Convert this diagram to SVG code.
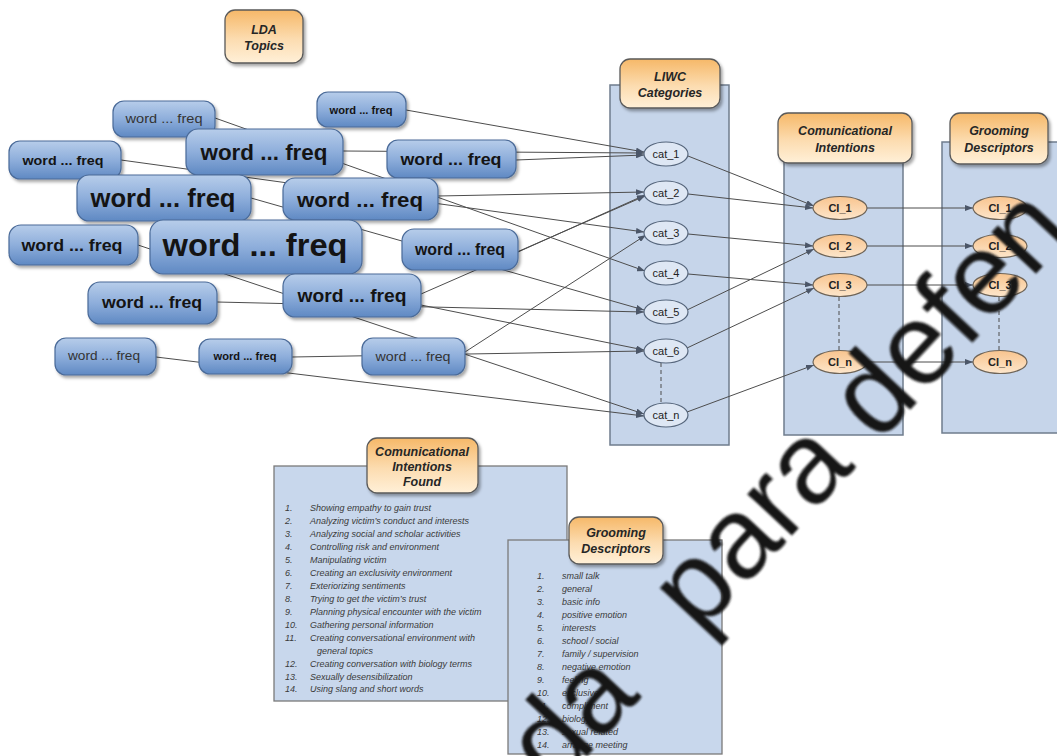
<svg xmlns="http://www.w3.org/2000/svg" width="1057" height="756" viewBox="0 0 1057 756">
  <defs>
    <linearGradient id="blueGrad" x1="0" y1="0" x2="0" y2="1">
      <stop offset="0" stop-color="#b7cdea"/>
      <stop offset="0.5" stop-color="#8eaedb"/>
      <stop offset="1" stop-color="#5f89c3"/>
    </linearGradient>
    <linearGradient id="orangeGrad" x1="0" y1="0" x2="0" y2="1">
      <stop offset="0" stop-color="#f6b868"/>
      <stop offset="0.55" stop-color="#fcdcb0"/>
      <stop offset="1" stop-color="#fff0d8"/>
    </linearGradient>
    <linearGradient id="ciGrad" x1="0" y1="0" x2="0" y2="1">
      <stop offset="0" stop-color="#f8c48e"/>
      <stop offset="1" stop-color="#fde6cb"/>
    </linearGradient>
    <filter id="shadow" x="-10%" y="-10%" width="130%" height="140%">
      <feDropShadow dx="2" dy="2.5" stdDeviation="1.5" flood-color="#000" flood-opacity="0.35"/>
    </filter>
    <filter id="soft" x="-5%" y="-5%" width="110%" height="110%">
      <feGaussianBlur stdDeviation="1.3"/>
    </filter>
    <marker id="arrow" viewBox="0 0 8 6" refX="8" refY="3" markerWidth="8" markerHeight="6" markerUnits="userSpaceOnUse" orient="auto">
      <path d="M0,0 L8,3 L0,6 z" fill="#4b5668"/>
    </marker>
    <style>
      .word rect { fill: url(#blueGrad); stroke: #4a6a98; stroke-width: 1.2; filter: url(#shadow); }
      .word text { font-family: "Liberation Sans", Arial, sans-serif; font-weight: bold; fill: #141414; text-anchor: middle; }
      .word text.lite { font-weight: normal; fill: #333; }
      .hdr rect { fill: url(#orangeGrad); stroke: #5a5a5a; stroke-width: 1.3; filter: url(#shadow); }
      .hdr text { font-family: "Liberation Sans", Arial, sans-serif; font-weight: bold; font-style: italic; font-size: 12.5px; fill: #262626; text-anchor: middle; }
      .col { fill: #c6d5ea; stroke: #6f7c8d; stroke-width: 1.5; }
      .panel { fill: #c8d7ec; stroke: #7a7a7a; stroke-width: 1.3; }
      .cat ellipse { fill: #dee7f4; stroke: #56667c; stroke-width: 1.2; }
      .cat text { font-family: "Liberation Sans", Arial, sans-serif; font-size: 11px; fill: #222; text-anchor: middle; }
      .ci ellipse { fill: url(#ciGrad); stroke: #6e6458; stroke-width: 1.2; }
      .ci text { font-family: "Liberation Sans", Arial, sans-serif; font-size: 11px; font-weight: bold; fill: #222; text-anchor: middle; }
      .edges line { stroke: #4d4d4d; stroke-width: 1; }
      .edges line.arr { marker-end: url(#arrow); }
      .dash { stroke: #4d5666; stroke-width: 1.6; stroke-dasharray: 4 3; }
      .list text { font-family: "Liberation Sans", Arial, sans-serif; font-style: italic; font-size: 9px; fill: #3a3a3a; }
      .mark { font-family: "Liberation Sans", Arial, sans-serif; font-size: 115px; fill: #141414; filter: url(#soft); }
    </style>
  </defs>

  <rect width="1057" height="756" fill="#fff"/>

  <!-- column backgrounds -->
  <g id="columns">
    <rect class="col" x="610" y="85" width="119" height="360"/>
    <rect class="col" x="784" y="145" width="119" height="290"/>
    <rect class="col" x="942" y="142" width="130" height="291"/>
  </g>

  <!-- connectors -->
  <g id="connectors" class="edges">
    <!-- word nodes to LIWC categories -->
    <line class="arr" x1="406" y1="110" x2="644" y2="152"/>
    <line class="arr" x1="343" y1="151" x2="644" y2="153"/>
    <line class="arr" x1="516" y1="160" x2="644" y2="155"/>
    <line class="arr" x1="215" y1="118" x2="645" y2="271"/>
    <line class="arr" x1="121" y1="160" x2="644" y2="232"/>
    <line class="arr" x1="438" y1="196" x2="644" y2="192"/>
    <line class="arr" x1="251" y1="198" x2="644" y2="310"/>
    <line class="arr" x1="518" y1="252" x2="645" y2="195"/>
    <line class="arr" x1="421" y1="294" x2="645" y2="196"/>
    <line class="arr" x1="217" y1="302" x2="644" y2="312"/>
    <line class="arr" x1="421" y1="305" x2="644" y2="350"/>
    <line class="arr" x1="138" y1="245" x2="644" y2="414"/>
    <line class="arr" x1="465" y1="352" x2="646" y2="235"/>
    <line class="arr" x1="292" y1="357" x2="644" y2="351"/>
    <line class="arr" x1="156" y1="357" x2="644" y2="416"/>
    <!-- LIWC categories to communicational intentions -->
    <line class="arr" x1="688" y1="156" x2="814" y2="206"/>
    <line class="arr" x1="688" y1="194" x2="813" y2="208"/>
    <line class="arr" x1="688" y1="234" x2="813" y2="246"/>
    <line class="arr" x1="688" y1="274" x2="813" y2="285"/>
    <line class="arr" x1="687" y1="310" x2="814" y2="249"/>
    <line class="arr" x1="687" y1="348" x2="814" y2="288"/>
    <line class="arr" x1="687" y1="412" x2="814" y2="365"/>
    <!-- communicational intentions to grooming descriptors -->
    <line class="arr" x1="867" y1="208" x2="973" y2="208"/>
    <line class="arr" x1="867" y1="246" x2="973" y2="246"/>
    <line class="arr" x1="867" y1="285" x2="973" y2="285"/>
    <line class="arr" x1="867" y1="362" x2="973" y2="362"/>
    <!-- ellipsis markers between rows -->
    <line class="dash" x1="661" y1="363" x2="661" y2="403"/>
    <line class="dash" x1="839" y1="297" x2="839" y2="350"/>
    <line class="dash" x1="999" y1="297" x2="999" y2="350"/>
  </g>

  <!-- LDA topic word nodes -->
  <g id="w1" class="word"><rect x="113" y="101" width="102" height="36" rx="11"/><text class="lite" x="164" y="123" font-size="12" textLength="77" lengthAdjust="spacingAndGlyphs">word ... freq</text></g>
  <g id="w2" class="word"><rect x="317" y="92" width="89" height="35" rx="11"/><text x="361" y="113.5" font-size="10" textLength="63" lengthAdjust="spacingAndGlyphs">word ... freq</text></g>
  <g id="w4" class="word"><rect x="9" y="141" width="112" height="38" rx="11"/><text x="63" y="165" font-size="13.5" textLength="81" lengthAdjust="spacingAndGlyphs">word ... freq</text></g>
  <g id="w3" class="word"><rect x="186" y="129" width="157" height="46" rx="12"/><text x="264" y="160" font-size="22" textLength="127" lengthAdjust="spacingAndGlyphs">word ... freq</text></g>
  <g id="w5" class="word"><rect x="387" y="140" width="129" height="38" rx="11"/><text x="451" y="165" font-size="16.5" textLength="101" lengthAdjust="spacingAndGlyphs">word ... freq</text></g>
  <g id="w6" class="word"><rect x="77" y="175" width="174" height="46" rx="12"/><text x="163" y="207" font-size="26" textLength="145" lengthAdjust="spacingAndGlyphs">word ... freq</text></g>
  <g id="w7" class="word"><rect x="283" y="178" width="155" height="42" rx="12"/><text x="360" y="207" font-size="21" textLength="126" lengthAdjust="spacingAndGlyphs">word ... freq</text></g>
  <g id="w8" class="word"><rect x="9" y="225" width="129" height="40" rx="12"/><text x="72" y="251" font-size="16" textLength="101" lengthAdjust="spacingAndGlyphs">word ... freq</text></g>
  <g id="w9" class="word"><rect x="150" y="220" width="212" height="54" rx="13"/><text x="255" y="256" font-size="31" textLength="185" lengthAdjust="spacingAndGlyphs">word ... freq</text></g>
  <g id="w10" class="word"><rect x="402" y="229" width="116" height="41" rx="12"/><text x="460" y="255" font-size="16" textLength="90" lengthAdjust="spacingAndGlyphs">word ... freq</text></g>
  <g id="w11" class="word"><rect x="88" y="282" width="129" height="42" rx="12"/><text x="152" y="308" font-size="17" textLength="100" lengthAdjust="spacingAndGlyphs">word ... freq</text></g>
  <g id="w12" class="word"><rect x="283" y="274" width="138" height="43" rx="12"/><text x="352" y="302" font-size="18.5" textLength="109" lengthAdjust="spacingAndGlyphs">word ... freq</text></g>
  <g id="w13" class="word"><rect x="55" y="338" width="101" height="37" rx="11"/><text class="lite" x="104" y="360" font-size="12" textLength="72" lengthAdjust="spacingAndGlyphs">word ... freq</text></g>
  <g id="w14" class="word"><rect x="199" y="339" width="93" height="35" rx="11"/><text x="245" y="360" font-size="10" textLength="63" lengthAdjust="spacingAndGlyphs">word ... freq</text></g>
  <g id="w15" class="word"><rect x="362" y="338" width="103" height="37" rx="11"/><text class="lite" x="413" y="361" font-size="13" textLength="75" lengthAdjust="spacingAndGlyphs">word ... freq</text></g>

  <!-- column headers -->
  <g id="h-lda" class="hdr"><rect x="225" y="10" width="78" height="53" rx="10"/><text x="264" y="34">LDA</text><text x="264" y="50">Topics</text></g>
  <g id="h-liwc" class="hdr"><rect x="620" y="59" width="100" height="49" rx="10"/><text x="670" y="81">LIWC</text><text x="670" y="97">Categories</text></g>
  <g id="h-ci" class="hdr"><rect x="778" y="113" width="134" height="50" rx="10"/><text x="845" y="135">Comunicational</text><text x="845" y="152">Intentions</text></g>
  <g id="h-gd" class="hdr"><rect x="950" y="113" width="98" height="51" rx="10"/><text x="999" y="135">Grooming</text><text x="999" y="152">Descriptors</text></g>

  <!-- LIWC category nodes -->
  <g id="cat1" class="cat"><ellipse cx="666" cy="154" rx="22" ry="12"/><text x="666" y="158">cat_1</text></g>
  <g id="cat2" class="cat"><ellipse cx="666" cy="193" rx="22" ry="12"/><text x="666" y="197">cat_2</text></g>
  <g id="cat3" class="cat"><ellipse cx="666" cy="233" rx="22" ry="12"/><text x="666" y="237">cat_3</text></g>
  <g id="cat4" class="cat"><ellipse cx="666" cy="273" rx="22" ry="12"/><text x="666" y="277">cat_4</text></g>
  <g id="cat5" class="cat"><ellipse cx="666" cy="312" rx="22" ry="12"/><text x="666" y="316">cat_5</text></g>
  <g id="cat6" class="cat"><ellipse cx="666" cy="351" rx="22" ry="12"/><text x="666" y="355">cat_6</text></g>
  <g id="catn" class="cat"><ellipse cx="666" cy="415" rx="22" ry="12"/><text x="666" y="419">cat_n</text></g>

  <!-- communicational intention nodes -->
  <g id="ci1" class="ci"><ellipse cx="840" cy="208" rx="27" ry="11.5"/><text x="840" y="212">CI_1</text></g>
  <g id="ci2" class="ci"><ellipse cx="840" cy="246" rx="27" ry="11.5"/><text x="840" y="250">CI_2</text></g>
  <g id="ci3" class="ci"><ellipse cx="840" cy="285" rx="27" ry="11.5"/><text x="840" y="289">CI_3</text></g>
  <g id="cin" class="ci"><ellipse cx="840" cy="362" rx="27" ry="11.5"/><text x="840" y="366">CI_n</text></g>

  <!-- grooming descriptor nodes -->
  <g id="gd1" class="ci"><ellipse cx="1000" cy="208" rx="27" ry="11.5"/><text x="1000" y="212">CI_1</text></g>
  <g id="gd2" class="ci"><ellipse cx="1000" cy="246" rx="27" ry="11.5"/><text x="1000" y="250">CI_2</text></g>
  <g id="gd3" class="ci"><ellipse cx="1000" cy="285" rx="27" ry="11.5"/><text x="1000" y="289">CI_3</text></g>
  <g id="gdn" class="ci"><ellipse cx="1000" cy="362" rx="27" ry="11.5"/><text x="1000" y="366">CI_n</text></g>

  <!-- list of communicational intentions found -->
  <g id="ci-found">
    <rect class="panel" x="274" y="466" width="293" height="235"/>
    <g class="hdr"><rect x="367" y="438" width="111" height="55" rx="10"/><text x="422" y="456" font-size="11.5px" font-weight="normal">Comunicational</text><text x="422" y="471" font-size="11.5px" font-weight="normal">Intentions</text><text x="422" y="486" font-size="11.5px" font-weight="normal">Found</text></g>
    <g class="list">
      <text x="285" y="511">1.</text><text x="310" y="511">Showing empathy to gain trust</text>
      <text x="285" y="524">2.</text><text x="310" y="524">Analyzing victim’s conduct and interests</text>
      <text x="285" y="537">3.</text><text x="310" y="537">Analyzing social and scholar activities</text>
      <text x="285" y="550">4.</text><text x="310" y="550">Controlling risk and environment</text>
      <text x="285" y="563">5.</text><text x="310" y="563">Manipulating victim</text>
      <text x="285" y="576">6.</text><text x="310" y="576">Creating an exclusivity environment</text>
      <text x="285" y="589">7.</text><text x="310" y="589">Exteriorizing sentiments</text>
      <text x="285" y="602">8.</text><text x="310" y="602">Trying to get the victim’s trust</text>
      <text x="285" y="615">9.</text><text x="310" y="615">Planning physical encounter with the victim</text>
      <text x="285" y="628">10.</text><text x="310" y="628">Gathering personal information</text>
      <text x="285" y="641">11.</text><text x="310" y="641">Creating conversational environment with</text>
      <text x="317" y="654">general topics</text>
      <text x="285" y="667">12.</text><text x="310" y="667">Creating conversation with biology terms</text>
      <text x="285" y="680">13.</text><text x="310" y="680">Sexually desensibilization</text>
      <text x="285" y="692">14.</text><text x="310" y="692">Using slang and short words</text>
    </g>
  </g>

  <!-- list of grooming descriptors -->
  <g id="gd-list">
    <rect class="panel" x="508" y="540" width="214" height="214"/>
    <g class="hdr"><rect x="569" y="517" width="94" height="47" rx="10"/><text x="616" y="537" font-size="11.5px">Grooming</text><text x="616" y="553" font-size="11.5px">Descriptors</text></g>
    <g class="list">
      <text x="537" y="579">1.</text><text x="562" y="579">small talk</text>
      <text x="537" y="592">2.</text><text x="562" y="592">general</text>
      <text x="537" y="605">3.</text><text x="562" y="605">basic info</text>
      <text x="537" y="618">4.</text><text x="562" y="618">positive emotion</text>
      <text x="537" y="631">5.</text><text x="562" y="631">interests</text>
      <text x="537" y="644">6.</text><text x="562" y="644">school / social</text>
      <text x="537" y="657">7.</text><text x="562" y="657">family / supervision</text>
      <text x="537" y="670">8.</text><text x="562" y="670">negative emotion</text>
      <text x="537" y="683">9.</text><text x="562" y="683">feeling</text>
      <text x="537" y="696">10.</text><text x="562" y="696">exclusive</text>
      <text x="537" y="709">11.</text><text x="562" y="709">compliment</text>
      <text x="537" y="722">12.</text><text x="562" y="722">biology</text>
      <text x="537" y="735">13.</text><text x="562" y="735">sexual related</text>
      <text x="537" y="748">14.</text><text x="562" y="748">arrange meeting</text>
    </g>
  </g>

  <!-- stamp across the lower right -->
  <g id="stamp" transform="translate(590 752) rotate(-47)">
    <text class="mark" x="-52" y="0">da<tspan x="160">para defen</tspan></text>
  </g>
</svg>
